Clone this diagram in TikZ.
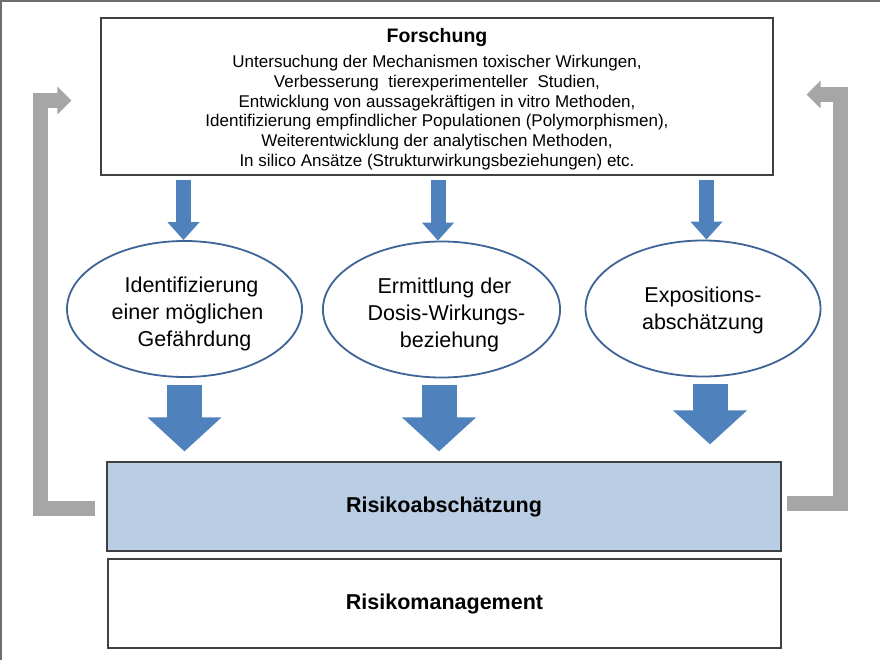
\documentclass[tikz,border=0pt]{standalone}
\usepackage{fontspec}
\setmainfont{Liberation Sans}
\usetikzlibrary{arrows.meta,calc,shapes.geometric}
\definecolor{arrowblue}{HTML}{4F81BD}
\definecolor{ellborder}{HTML}{3E6497}
\definecolor{boxblue}{HTML}{B9CDE5}
\definecolor{boxline}{HTML}{404040}
\definecolor{loopgray}{HTML}{A6A6A6}
\definecolor{framegray}{HTML}{6E6E6E}
\begin{document}
\begin{tikzpicture}[x=1pt,y=-1pt,
  plainbox/.style={draw=boxline, line width=1.2pt, rectangle, inner sep=0pt, align=center},
  oval/.style={draw=ellborder, line width=1.8pt, ellipse, minimum width=235pt, minimum height=136pt, inner sep=0pt, align=center, font=\fontsize{21.5}{27}\selectfont},
  smallarrow/.style={arrowblue, line width=15pt, -{Triangle[width=31pt,length=18pt]}},
  bigarrow/.style={arrowblue, line width=35pt, -{Triangle[width=72pt,length=34pt]}},
  loopline/.style={loopgray, line width=15pt, line join=miter, -{Triangle[width=27pt,length=14pt]}},
]
\useasboundingbox (0,0) rectangle (880,660);
\fill[white] (0,0) rectangle (880,660);
\draw[framegray, line width=2pt] (1,660) -- (1,1) -- (880,1);

\node[plainbox, minimum width=672pt, minimum height=157pt, font=\fontsize{17}{19.7}\selectfont] (top) at (437,96.5)
  {\rule{0pt}{19pt}{\bfseries\fontsize{19.5}{19.7}\selectfont Forschung}\\[6pt]
   Untersuchung der Mechanismen toxischer Wirkungen,\\
   Verbesserung~ tierexperimenteller~ Studien,\\
   Entwicklung von aussagekräftigen in vitro Methoden,\\
   Identifizierung empfindlicher Populationen (Polymorphismen),\\
   Weiterentwicklung der analytischen Methoden,\\
   In silico Ansätze (Strukturwirkungsbeziehungen) etc.};

\node[oval] (e1) at (184.5,309) {\rule{0pt}{26pt}\hspace*{14pt}Identifizierung\\\hspace*{6pt}einer möglichen\\\hspace*{20pt}Gefährdung};
\node[oval] (e2) at (441.5,309.5) {\rule{0pt}{26pt}\hspace*{6pt}Ermittlung der\\\hspace*{10pt}Dosis-Wirkungs-\\\hspace*{16pt}beziehung};
\node[oval] (e3) at (703,308.5) {\rule{0pt}{20pt}Expositions-\\abschätzung};

\node[plainbox, fill=boxblue, minimum width=674pt, minimum height=89pt, font=\bfseries\fontsize{21.5}{26}\selectfont] (risk) at (444,506.5) {Risikoabschätzung};
\node[plainbox, minimum width=673pt, minimum height=89pt, font=\bfseries\fontsize{21.5}{26}\selectfont] (mgmt) at (444.5,603.5) {Risikomanagement};

\draw[smallarrow] ($(e1.north |- top.south)+(-1,4)$) -- ($(e1.north)+(-1,0)$);
\draw[smallarrow] ($(e2.north |- top.south)+(-3.5,4)$) -- ($(e2.north)+(-3.5,0)$);
\draw[smallarrow] ($(e3.north |- top.south)+(3.5,4)$) -- ($(e3.north)+(3.5,0)$);

\draw[bigarrow] ($(e1.south)+(0,7)$) -- ($(e1.south |- risk.north)+(0,-10)$);
\draw[bigarrow] ($(e2.south)+(-2.5,7)$) -- ($(e2.south |- risk.north)+(-2.5,-10)$);
\draw[bigarrow] ($(e3.south)+(7,7)$) -- ($(e3.south |- risk.north)+(7,-17)$);

\draw[loopline] ($(risk.west)+(-11,2)$) -- (40.5,508.5) -- (40.5,100.5) -- ($(top.west)+(-29,4)$);
\draw[loopline] ($(risk.east)+(5,-3)$) -- (840.5,503.5) -- (840.5,94.5) -- ($(top.east)+(33,-2)$);
\end{tikzpicture}
\end{document}
